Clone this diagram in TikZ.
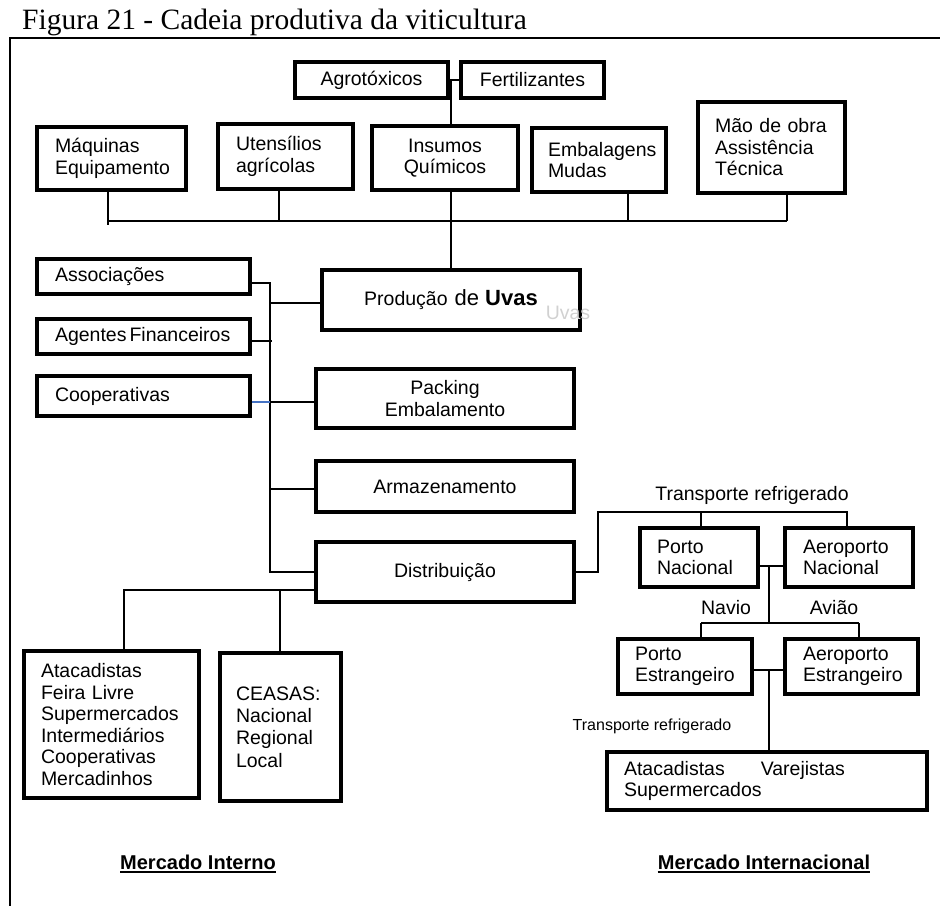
\documentclass[tikz,border=0pt]{standalone}
\usepackage{fontspec}
\setmainfont{Liberation Sans}
\newfontfamily\captionserif{Liberation Serif}
\begin{document}
\begin{tikzpicture}[x=1pt,y=-1pt,
  bx/.style={draw=black, line width=4pt, inner xsep=0pt, inner ysep=0pt,
    font=\fontsize{19.5}{21.5}\selectfont},
  bxl/.style={bx, align=left},
  bxc/.style={bx, align=center},
  ln/.style={draw=black, line width=1.4pt},
  lbl/.style={inner sep=0pt, font=\fontsize{19.5}{22}\selectfont},
  mkt/.style={inner sep=0pt, font=\fontsize{20}{24}\selectfont\bfseries}]
\useasboundingbox (0,0) rectangle (940,906);

% caption and frame
\node[anchor=base west, inner sep=0pt, font=\captionserif\fontsize{29.5}{32}\selectfont] (ttl) at (22,29) {Figura 21 - Cadeia produtiva da viticultura};
\draw[line width=2pt] (940,38) -- (10,38) -- (10,906);

% inputs
\node[bxc, minimum width=153pt, minimum height=36pt] (agro) at (371.5,80) {Agrotóxicos};
\node[bxc, minimum width=143pt, minimum height=36pt] (fert) at (532.5,80) {Fertilizantes};
\node[bxl, minimum width=149pt, minimum height=63pt, inner xsep=18pt, text width=113pt] (maq) at (111.5,158.5) {Máquinas\\Equipamento};
\node[bxl, minimum width=135pt, minimum height=65pt, inner xsep=18pt, text width=99pt] (uten) at (285.5,156.5) {Utensílios\\agrícolas};
\node[bxc, minimum width=146pt, minimum height=64pt] (insu) at (445,158) {Insumos\\Químicos};
\node[bxl, minimum width=134pt, minimum height=64pt, inner xsep=16pt, text width=102pt] (emb) at (599,160) {Embalagens\\Mudas};
\node[bxl, minimum width=147pt, minimum height=91pt, inner xsep=17pt, text width=113pt] (mao) at (771.5,147.5) {Mão de obra\\Assistência\\Técnica};

% support institutions
\node[bxl, minimum width=213pt, minimum height=35pt, inner xsep=18pt, text width=177pt] (assoc) at (143.5,276.5) {Associações};
\node[bxl, minimum width=213pt, minimum height=35pt, inner xsep=18pt, text width=177pt] (agent) at (143.5,336.5) {\mbox{Agentes\hspace{3pt}Financeiros}};
\node[bxl, minimum width=213pt, minimum height=40pt, inner xsep=18pt, text width=177pt] (coop) at (143.5,396) {Cooperativas};

% main chain
\node[bxc, minimum width=258pt, minimum height=60pt] (prod) at (451,300) {Produção\hspace{7pt}{\fontsize{22}{24}\selectfont de \textbf{Uvas}}};
\node[lbl, text=black!18] (ghost) at (568,313) {Uvas};
\node[bxc, minimum width=258pt, minimum height=59pt] (pack) at (445,398.5) {Packing\\Embalamento};
\node[bxc, minimum width=258pt, minimum height=51pt] (arm) at (445,486.5) {Armazenamento};
\node[bxc, minimum width=258pt, minimum height=60pt] (dist) at (445,572) {Distribuição};

% international market
\node[bxl, minimum width=118pt, minimum height=59pt, inner xsep=17pt, text width=84pt] (pnac) at (699,557.5) {Porto\\Nacional};
\node[bxl, minimum width=128pt, minimum height=59pt, inner xsep=18pt, text width=92pt] (anac) at (849,557.5) {Aeroporto\\Nacional};
\node[bxl, minimum width=134pt, minimum height=55pt, inner xsep=17pt, text width=100pt] (pest) at (685,666.5) {Porto\\Estrangeiro};
\node[bxl, minimum width=133pt, minimum height=55pt, inner xsep=18pt, text width=97pt] (aest) at (851.5,666.5) {Aeroporto\\Estrangeiro};
\node[bxl, minimum width=320pt, minimum height=58pt, inner xsep=17pt, text width=286pt] (intl) at (767,781) {Atacadistas\hspace{36pt}Varejistas\\Supermercados};

% domestic market
\node[bxl, minimum width=175pt, minimum height=147pt, inner xsep=17pt, text width=141pt] (lista) at (111.5,724.5) {Atacadistas\\Feira Livre\\Supermercados\\Intermediários\\Cooperativas\\Mercadinhos};
\node[bxl, minimum width=121pt, minimum height=148pt, inner xsep=16pt, text width=89pt, font=\fontsize{19.5}{22.4}\selectfont] (ceasas) at (280.5,727) {CEASAS:\\Nacional\\Regional\\Local};

% labels
\node[lbl] (tr1) at (752,495) {Transporte refrigerado};
\node[lbl] (navio) at (726,608) {Navio};
\node[lbl] (aviao) at (834,608) {Avião};
\node[lbl, font=\fontsize{16}{18}\selectfont] (tr2) at (652,726) {Transporte refrigerado};
\node[mkt] (mint) at (198,862) {Mercado Interno};
\node[mkt] (mext) at (764,862) {Mercado Internacional};
\draw[line width=1.5pt] ([yshift=-3pt]mint.base west) -- ([yshift=-3pt]mint.base east);
\draw[line width=1.5pt] ([yshift=-3pt]mext.base west) -- ([yshift=-3pt]mext.base east);

% junction points
\coordinate (jtop) at (451,80);
\coordinate (busL) at (108,221);
\coordinate (busR) at (787,221);
\coordinate (maqEnd) at (108,225);
\coordinate (dU) at (279,221);
\coordinate (dE) at (628,221);
\coordinate (lbTop) at (270,283);
\coordinate (lbBot) at (270,572);
\coordinate (agJ) at (272,341);
\coordinate (pJ) at (270,303);
\coordinate (cJ) at (270,402);
\coordinate (aJ) at (270,489);
\coordinate (dL) at (124,590);
\coordinate (dC) at (280,590);
\coordinate (rA) at (598,572);
\coordinate (rB) at (598,512);
\coordinate (rC) at (847,512);
\coordinate (rP) at (701,512);
\coordinate (nJ) at (769,566);
\coordinate (nK) at (769,623);
\coordinate (nL) at (701,623);
\coordinate (nR) at (859,623);
\coordinate (eJ) at (769,670);

% connectors: inputs
\draw[ln] (agro.east) -- (fert.west);
\draw[ln] (jtop) -- (jtop |- insu.north);
\draw[ln] (insu.south -| jtop) -- (prod.north -| jtop);
\draw[ln] (busL) -- (busR);
\draw[ln] (maq.south -| busL) -- (maqEnd);
\draw[ln] (uten.south -| dU) -- (dU);
\draw[ln] (emb.south -| dE) -- (dE);
\draw[ln] (mao.south -| busR) -- (busR);

% connectors: institutions and chain
\draw[ln] (assoc.east |- lbTop) -- (lbTop) -- (lbBot) -- (dist.west |- lbBot);
\draw[ln] (agent.east |- agJ) -- (agJ);
\draw[draw={rgb,255:red,68;green,114;blue,196}, line width=1.2pt] (coop.east |- cJ) -- (cJ);
\draw[ln] (pJ) -- (prod.west |- pJ);
\draw[ln] (cJ) -- (pack.west |- cJ);
\draw[ln] (aJ) -- (arm.west |- aJ);

% connectors: domestic market
\draw[ln] (dist.west |- dL) -- (dL) -- (lista.north -| dL);
\draw[ln] (dC) -- (ceasas.north -| dC);

% connectors: international market
\draw[ln] (dist.east |- rA) -- (rA) -- (rB) -- (rC) -- (anac.north -| rC);
\draw[ln] (rP) -- (pnac.north -| rP);
\draw[ln] (pnac.east |- nJ) -- (anac.west |- nJ);
\draw[ln] (nJ) -- (nK);
\draw[ln] (nL) -- (nR);
\draw[ln] (nL) -- (pest.north -| nL);
\draw[ln] (nR) -- (aest.north -| nR);
\draw[ln] (pest.east |- eJ) -- (aest.west |- eJ);
\draw[ln] (eJ) -- (intl.north -| eJ);
\end{tikzpicture}
\end{document}
